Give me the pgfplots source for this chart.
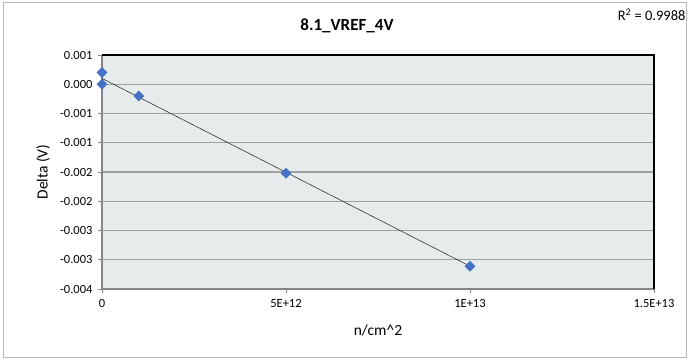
\documentclass[border=0pt]{standalone}
\usepackage{pgfplots}
\pgfplotsset{compat=1.18}
\usepackage{fontspec}
\setmainfont{Carlito}
\definecolor{plotbg}{RGB}{230,236,236}
\definecolor{gridc}{RGB}{160,160,160}
\definecolor{axc}{RGB}{134,134,134}
\definecolor{mk}{RGB}{68,114,196}
\begin{document}
\begin{tikzpicture}
\path[use as bounding box] (0pt,0pt) rectangle (689pt,360pt);
\draw[color=gray!55, line width=1pt] (3pt,3pt) rectangle (686pt,358pt);
\node[font=\fontsize{17}{19}\selectfont\bfseries] at (347pt,334.5pt) {8.1\_VREF\_4V};
\node[anchor=east, font=\fontsize{14.5}{16}\selectfont] at (689pt,345pt) {R\textsuperscript{2} = 0.9988};
\begin{axis}[
  at={(102pt,71pt)}, anchor=south west,
  scale only axis, width=552pt, height=234pt,
  xmin=0, xmax=1.5e13, ymin=-0.0035, ymax=0.0005,
  scaled x ticks=false, scaled y ticks=false,
  xtick={0,5e12,1e13,1.5e13},
  xticklabels={0,5E+12,1E+13,1.5E+13},
  ytick={0.0005,0,-0.0005,-0.001,-0.0015,-0.002,-0.0025,-0.003,-0.0035},
  yticklabels={0.001,0.000,-0.001,-0.001,-0.002,-0.002,-0.003,-0.003,-0.004},
  axis x line*=bottom, axis y line*=left,
  axis line style={axc, line width=1.5pt, -},
  tick style={axc, line width=0.8pt},
  tick align=outside, major tick length=4pt,
  ymajorgrids, grid style={gridc, line width=1.2pt},
  axis background/.style={fill=plotbg},
  ticklabel style={font=\fontsize{12.5}{14}\selectfont},
  xticklabel style={yshift=-3pt},
  yticklabel style={xshift=-2pt},
  xlabel={n/cm\^{}2}, ylabel={Delta (V)},
  label style={font=\fontsize{15.5}{17}\selectfont},
  xlabel style={at={(axis description cs:0.5,-0.175)}, anchor=center},
  ylabel style={at={(axis description cs:-0.107,0.5)}, anchor=center},
  clip=false,
]
\draw[black, line width=1.5pt] (rel axis cs:0,1) -- (rel axis cs:1,1) -- (rel axis cs:1,0);
\addplot[black!80, line width=0.6pt, no markers] coordinates {(0,0.0001) (1e13,-0.00311)};
\addplot[only marks, mark=square*, mark size=3.6pt, mk, mark options={draw=mk, fill=mk, rotate=45}] coordinates {
(0,0.0002) (0,0) (1e12,-0.0002) (5e12,-0.00152) (1e13,-0.00311)
};
\end{axis}
\end{tikzpicture}
\end{document}
